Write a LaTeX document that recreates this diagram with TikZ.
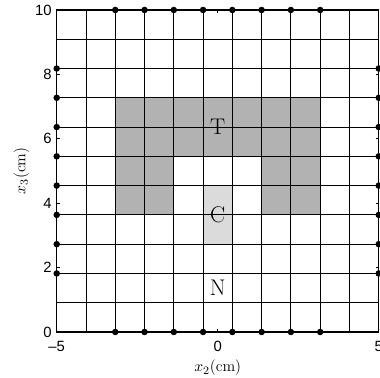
\documentclass[tikz,border=0pt]{standalone}
\usepackage{fontspec}
\newfontfamily\axisfont{Liberation Sans}
\definecolor{tumor}{gray}{0.70}
\definecolor{cavity}{gray}{0.86}

\tikzset{
  gridline/.style={line width=0.6pt, black},
  frame/.style={line width=0.8pt, black},
  ticklbl/.style={inner sep=0pt, font=\axisfont\fontsize{10.5}{12}\selectfont},
  axislbl/.style={inner sep=0pt, font=\fontsize{11}{13}\selectfont},
  region/.style={inner sep=0pt, font=\fontsize{16}{18}\selectfont},
  probe/.style={fill=black}
}

\begin{document}
\begin{tikzpicture}[x=0.8cm,y=0.8cm,>=stealth]
\useasboundingbox (-6.761,-1.415) rectangle (5.04,10.31);

% cells of the grid, 11 x 11
\begin{scope}[shift={(-4cm,0cm)}, x=0.727273cm, y=0.727273cm]
\fill[tumor] (2,6) rectangle (9,8);
\fill[tumor] (2,4) rectangle (4,6);
\fill[tumor] (7,4) rectangle (9,6);
\fill[cavity] (5,3) rectangle (6,5);
\draw[gridline, step=1] (0,0) grid (11,11);

\foreach \i in {2,...,9} {
  \fill[probe] (\i,0) circle (2.3pt);
  \fill[probe] (\i,11) circle (2.3pt);
  \fill[probe] (0,\i) circle (2.3pt);
  \fill[probe] (11,\i) circle (2.3pt);
}

\node[region] (T) at (5.5,7) {T};
\node[region] (C) at (5.5,4) {C};
\node[region] (N) at (5.5,1.5) {N};
\end{scope}

% axes
\draw[frame] (-5,0) rectangle (5,10);
\foreach \y in {0,2,...,10} {
  \draw[frame] (-5,\y) -- ++(2pt,0);
  \draw[frame] (5,\y) -- ++(-2pt,0);
  \node[ticklbl, anchor=east, xshift=-3.3pt] (ylab\y) at (-5,\y) {\y};
}
\foreach \x/\t in {-5/\textendash 5, 0/0, 5/5} {
  \draw[frame] (\x,0) -- ++(0,2pt);
  \draw[frame] (\x,10) -- ++(0,-2pt);
  \node[ticklbl, anchor=north, yshift=-6.6pt] (xlab\x) at (\x,0) {\t};
}

\node[axislbl, anchor=north, yshift=-19.6pt] (xname) at (0,0) {$x_2$(cm)};
\node[axislbl, rotate=90] (yname) at (-6.09,5) {$x_3$(cm)};
\end{tikzpicture}
\end{document}
